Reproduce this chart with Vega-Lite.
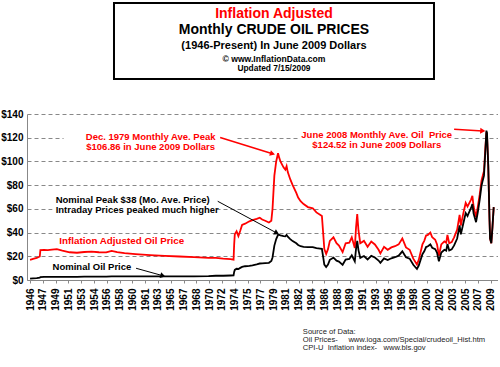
{
  "$schema": "https://vega.github.io/schema/vega-lite/v6.json",
  "padding": {"left": 0, "top": 2, "right": 0, "bottom": 0},
  "background": "white",
  "config": {"view": {"stroke": null}, "font": "Liberation Sans"},
  "bounds": "flush",
  "spacing": 35,
  "resolve": {"scale": {"color": "independent", "size": "independent"}},
  "datasets": {
    "oil": [
      {"date": "1946-01-01", "real": 17.0, "nominal": 1.2},
      {"date": "1946-06-01", "real": 17.8, "nominal": 1.4},
      {"date": "1946-12-01", "real": 18.6, "nominal": 1.6},
      {"date": "1947-05-01", "real": 19.8, "nominal": 1.9},
      {"date": "1947-06-01", "real": 25.2, "nominal": 2.4},
      {"date": "1947-12-01", "real": 25.4, "nominal": 2.6},
      {"date": "1948-06-01", "real": 25.2, "nominal": 2.7},
      {"date": "1949-01-01", "real": 25.6, "nominal": 2.7},
      {"date": "1949-09-01", "real": 26.0, "nominal": 2.7},
      {"date": "1950-06-01", "real": 24.8, "nominal": 2.7},
      {"date": "1951-06-01", "real": 23.4, "nominal": 2.7},
      {"date": "1952-06-01", "real": 23.0, "nominal": 2.7},
      {"date": "1953-06-01", "real": 23.6, "nominal": 2.8},
      {"date": "1954-06-01", "real": 24.0, "nominal": 2.8},
      {"date": "1955-06-01", "real": 23.4, "nominal": 2.8},
      {"date": "1956-06-01", "real": 23.3, "nominal": 2.8},
      {"date": "1957-03-01", "real": 24.6, "nominal": 3.1},
      {"date": "1957-12-01", "real": 23.6, "nominal": 3.1},
      {"date": "1958-12-01", "real": 22.6, "nominal": 3.0},
      {"date": "1960-06-01", "real": 21.8, "nominal": 3.0},
      {"date": "1962-06-01", "real": 21.0, "nominal": 3.0},
      {"date": "1964-06-01", "real": 20.4, "nominal": 3.0},
      {"date": "1966-06-01", "real": 19.8, "nominal": 3.0},
      {"date": "1968-06-01", "real": 19.3, "nominal": 3.1},
      {"date": "1970-06-01", "real": 18.6, "nominal": 3.2},
      {"date": "1971-06-01", "real": 18.6, "nominal": 3.6},
      {"date": "1972-06-01", "real": 18.0, "nominal": 3.6},
      {"date": "1973-06-01", "real": 17.6, "nominal": 3.8},
      {"date": "1973-11-01", "real": 17.2, "nominal": 3.9},
      {"date": "1973-12-01", "real": 30.0, "nominal": 6.8},
      {"date": "1974-01-01", "real": 38.5, "nominal": 8.5},
      {"date": "1974-04-01", "real": 41.0, "nominal": 9.5},
      {"date": "1974-07-01", "real": 37.0, "nominal": 9.3},
      {"date": "1974-10-01", "real": 41.5, "nominal": 10.2},
      {"date": "1975-01-01", "real": 46.5, "nominal": 11.0},
      {"date": "1975-06-01", "real": 47.5, "nominal": 11.6},
      {"date": "1976-01-01", "real": 49.5, "nominal": 12.0},
      {"date": "1976-06-01", "real": 50.5, "nominal": 12.4},
      {"date": "1977-01-01", "real": 51.5, "nominal": 13.2},
      {"date": "1977-06-01", "real": 52.5, "nominal": 13.9},
      {"date": "1977-10-01", "real": 51.0, "nominal": 14.0},
      {"date": "1978-03-01", "real": 50.0, "nominal": 14.2},
      {"date": "1978-09-01", "real": 48.5, "nominal": 14.5},
      {"date": "1979-01-01", "real": 50.0, "nominal": 16.0},
      {"date": "1979-03-01", "real": 60.0, "nominal": 19.0},
      {"date": "1979-06-01", "real": 88.0, "nominal": 29.0},
      {"date": "1979-09-01", "real": 100.0, "nominal": 34.5},
      {"date": "1979-12-01", "real": 106.86, "nominal": 38.0},
      {"date": "1980-02-01", "real": 103.0, "nominal": 38.0},
      {"date": "1980-04-01", "real": 100.0, "nominal": 37.6},
      {"date": "1980-06-01", "real": 98.0, "nominal": 37.4},
      {"date": "1980-09-01", "real": 95.0, "nominal": 37.0},
      {"date": "1980-12-01", "real": 93.0, "nominal": 36.8},
      {"date": "1981-02-01", "real": 96.0, "nominal": 38.0},
      {"date": "1981-04-01", "real": 91.0, "nominal": 36.5},
      {"date": "1981-08-01", "real": 85.0, "nominal": 34.5},
      {"date": "1981-12-01", "real": 80.0, "nominal": 32.8},
      {"date": "1982-06-01", "real": 73.5, "nominal": 31.0},
      {"date": "1982-09-01", "real": 69.5, "nominal": 29.5},
      {"date": "1983-01-01", "real": 66.5, "nominal": 28.5},
      {"date": "1983-06-01", "real": 64.0, "nominal": 28.0},
      {"date": "1984-01-01", "real": 61.5, "nominal": 27.8},
      {"date": "1984-09-01", "real": 60.5, "nominal": 27.8},
      {"date": "1985-03-01", "real": 57.0, "nominal": 26.8},
      {"date": "1985-09-01", "real": 55.0, "nominal": 26.5},
      {"date": "1985-12-01", "real": 54.0, "nominal": 26.3},
      {"date": "1986-02-01", "real": 40.0, "nominal": 19.5},
      {"date": "1986-04-01", "real": 26.0, "nominal": 13.0},
      {"date": "1986-07-01", "real": 22.0, "nominal": 11.0},
      {"date": "1986-10-01", "real": 26.0, "nominal": 13.0},
      {"date": "1987-01-01", "real": 33.0, "nominal": 17.0},
      {"date": "1987-07-01", "real": 36.0, "nominal": 18.8},
      {"date": "1987-12-01", "real": 31.0, "nominal": 16.3},
      {"date": "1988-04-01", "real": 29.0, "nominal": 15.5},
      {"date": "1988-10-01", "real": 23.5, "nominal": 12.8},
      {"date": "1989-03-01", "real": 31.0, "nominal": 17.2},
      {"date": "1989-09-01", "real": 31.5, "nominal": 17.8},
      {"date": "1990-01-01", "real": 36.0, "nominal": 20.8},
      {"date": "1990-06-01", "real": 27.0, "nominal": 15.8},
      {"date": "1990-08-01", "real": 44.0, "nominal": 26.0},
      {"date": "1990-10-01", "real": 55.5, "nominal": 33.0},
      {"date": "1990-12-01", "real": 42.0, "nominal": 25.2},
      {"date": "1991-03-01", "real": 31.0, "nominal": 18.7},
      {"date": "1991-09-01", "real": 33.0, "nominal": 20.2},
      {"date": "1992-03-01", "real": 28.0, "nominal": 17.3},
      {"date": "1992-09-01", "real": 32.5, "nominal": 20.4},
      {"date": "1993-03-01", "real": 30.0, "nominal": 19.0},
      {"date": "1993-09-01", "real": 25.5, "nominal": 16.4},
      {"date": "1993-12-01", "real": 22.5, "nominal": 14.5},
      {"date": "1994-06-01", "real": 28.0, "nominal": 18.2},
      {"date": "1994-12-01", "real": 25.5, "nominal": 16.8},
      {"date": "1995-06-01", "real": 27.5, "nominal": 18.3},
      {"date": "1995-12-01", "real": 28.5, "nominal": 19.2},
      {"date": "1996-06-01", "real": 30.0, "nominal": 20.5},
      {"date": "1996-12-01", "real": 35.0, "nominal": 24.2},
      {"date": "1997-06-01", "real": 27.5, "nominal": 19.2},
      {"date": "1997-12-01", "real": 25.5, "nominal": 18.0},
      {"date": "1998-06-01", "real": 18.0, "nominal": 12.8},
      {"date": "1998-12-01", "real": 13.0, "nominal": 9.3},
      {"date": "1999-03-01", "real": 17.0, "nominal": 12.2},
      {"date": "1999-09-01", "real": 30.0, "nominal": 21.8},
      {"date": "1999-12-01", "real": 33.0, "nominal": 24.2},
      {"date": "2000-03-01", "real": 37.5, "nominal": 27.8},
      {"date": "2000-06-01", "real": 38.0, "nominal": 28.4},
      {"date": "2000-10-01", "real": 40.0, "nominal": 30.0},
      {"date": "2001-01-01", "real": 36.0, "nominal": 27.2},
      {"date": "2001-06-01", "real": 34.0, "nominal": 26.0},
      {"date": "2001-09-01", "real": 30.0, "nominal": 23.0},
      {"date": "2001-12-01", "real": 20.5, "nominal": 15.8},
      {"date": "2002-04-01", "real": 30.0, "nominal": 23.2},
      {"date": "2002-09-01", "real": 32.5, "nominal": 25.5},
      {"date": "2002-12-01", "real": 31.5, "nominal": 24.8},
      {"date": "2003-02-01", "real": 38.0, "nominal": 30.3},
      {"date": "2003-05-01", "real": 31.0, "nominal": 24.8},
      {"date": "2003-09-01", "real": 32.0, "nominal": 25.8},
      {"date": "2004-01-01", "real": 36.0, "nominal": 29.2},
      {"date": "2004-06-01", "real": 42.5, "nominal": 35.0},
      {"date": "2004-10-01", "real": 55.0, "nominal": 46.0},
      {"date": "2004-12-01", "real": 46.0, "nominal": 38.5},
      {"date": "2005-04-01", "real": 56.0, "nominal": 47.5},
      {"date": "2005-08-01", "real": 65.0, "nominal": 56.5},
      {"date": "2005-11-01", "real": 62.0, "nominal": 54.0},
      {"date": "2006-01-01", "real": 64.0, "nominal": 56.5},
      {"date": "2006-05-01", "real": 68.0, "nominal": 61.0},
      {"date": "2006-07-01", "real": 71.0, "nominal": 64.0},
      {"date": "2006-09-01", "real": 62.0, "nominal": 56.0},
      {"date": "2007-01-01", "real": 53.0, "nominal": 48.8},
      {"date": "2007-04-01", "real": 62.0, "nominal": 57.5},
      {"date": "2007-07-01", "real": 72.0, "nominal": 67.5},
      {"date": "2007-10-01", "real": 84.0, "nominal": 79.5},
      {"date": "2007-12-01", "real": 88.0, "nominal": 84.0},
      {"date": "2008-02-01", "real": 92.0, "nominal": 88.0},
      {"date": "2008-04-01", "real": 109.0, "nominal": 106.0},
      {"date": "2008-06-01", "real": 124.52, "nominal": 126.0},
      {"date": "2008-07-01", "real": 122.0, "nominal": 124.0},
      {"date": "2008-09-01", "real": 96.0, "nominal": 97.0},
      {"date": "2008-11-01", "real": 52.0, "nominal": 52.5},
      {"date": "2008-12-01", "real": 35.0, "nominal": 35.0},
      {"date": "2009-02-01", "real": 31.0, "nominal": 31.0},
      {"date": "2009-04-01", "real": 45.0, "nominal": 45.0},
      {"date": "2009-06-01", "real": 61.5, "nominal": 61.5}
    ],
    "arrows": [
      {"n": 1, "d1": "1972-01-01", "p1": 120.1, "d2": "1979-03-01", "p2": 106.5},
      {"n": 2, "d1": "2004-01-01", "p1": 127.1, "d2": "2007-12-01", "p2": 125.7},
      {"n": 3, "d1": "1971-09-01", "p1": 66.4, "d2": "1979-10-01", "p2": 39.6},
      {"n": 4, "d1": "1960-07-01", "p1": 9.9, "d2": "1964-03-01", "p2": 3.6}
    ]
  },
  "vconcat": [
    {
      "width": 471,
      "height": 76,
      "layer": [
        {
          "data": {"values": [{}]},
          "mark": {"type": "rect", "fill": "#333333", "xOffset": 3, "yOffset": 3},
          "encoding": {
            "x": {"datum": 0.1847, "type": "quantitative", "scale": {"domain": [0, 1], "nice": false, "zero": false}, "axis": null},
            "x2": {"datum": 0.8641}
          }
        },
        {
          "data": {"values": [{}]},
          "mark": {"type": "rect", "fill": "#ffffff", "stroke": "#000000", "strokeWidth": 2},
          "encoding": {
            "x": {"datum": 0.1847, "type": "quantitative"},
            "x2": {"datum": 0.8641}
          }
        },
        {
          "data": {"values": [
            {"line": 1, "t": "Inflation Adjusted"},
            {"line": 2, "t": "Monthly CRUDE OIL PRICES"},
            {"line": 3, "t": "(1946-Present) In June 2009 Dollars"},
            {"line": 4, "t": "© www.InflationData.com"},
            {"line": 5, "t": "Updated 7/15/2009"}
          ]},
          "mark": {"type": "text", "fontWeight": "bold", "baseline": "middle", "align": "center", "font": "Liberation Sans"},
          "encoding": {
            "x": {"datum": 0.5244, "type": "quantitative"},
            "text": {"field": "t", "type": "nominal"},
            "y": {"field": "line", "type": "quantitative", "axis": null, "scale": {"domain": [1, 2, 3, 4, 5], "range": [11, 26.5, 43, 55.5, 64.5], "zero": false, "nice": false}},
            "color": {"field": "line", "type": "ordinal", "legend": null, "scale": {"domain": [1, 2, 3, 4, 5], "range": ["#ff0000", "#000000", "#000000", "#000000", "#000000"]}},
            "size": {"field": "line", "type": "quantitative", "legend": null, "scale": {"domain": [1, 2, 3, 4, 5], "range": [14, 14, 11, 8.6, 8.4], "zero": false}}
          }
        }
      ]
    },
    {
      "width": 471,
      "height": 166,
      "layer": [
        {
          "data": {"values": [
            {"d1": "1950-08-01", "d2": "1974-04-01", "p1": 110.2, "p2": 131.4},
            {"d1": "1982-10-01", "d2": "2003-11-01", "p1": 111.0, "p2": 131.0},
            {"d1": "1949-02-01", "d2": "1971-06-01", "p1": 57.6, "p2": 76.3}
          ]},
          "mark": {"type": "rect", "fill": "#ffffff", "stroke": null},
          "encoding": {
            "x": {
              "field": "d1", "type": "temporal",
              "scale": {"type": "utc", "domain": [{"year": 1945, "month": 8, "date": 1, "utc": true}, {"year": 2010, "month": 1, "date": 1, "utc": true}]},
              "axis": {
                "values": [
                  {"year": 1946, "month": 1, "date": 1, "utc": true},
                  {"year": 1947, "month": 10, "date": 1, "utc": true},
                  {"year": 1949, "month": 7, "date": 1, "utc": true},
                  {"year": 1951, "month": 4, "date": 1, "utc": true},
                  {"year": 1953, "month": 1, "date": 1, "utc": true},
                  {"year": 1954, "month": 10, "date": 1, "utc": true},
                  {"year": 1956, "month": 7, "date": 1, "utc": true},
                  {"year": 1958, "month": 4, "date": 1, "utc": true},
                  {"year": 1960, "month": 1, "date": 1, "utc": true},
                  {"year": 1961, "month": 10, "date": 1, "utc": true},
                  {"year": 1963, "month": 7, "date": 1, "utc": true},
                  {"year": 1965, "month": 4, "date": 1, "utc": true},
                  {"year": 1967, "month": 1, "date": 1, "utc": true},
                  {"year": 1968, "month": 10, "date": 1, "utc": true},
                  {"year": 1970, "month": 7, "date": 1, "utc": true},
                  {"year": 1972, "month": 4, "date": 1, "utc": true},
                  {"year": 1974, "month": 1, "date": 1, "utc": true},
                  {"year": 1975, "month": 10, "date": 1, "utc": true},
                  {"year": 1977, "month": 7, "date": 1, "utc": true},
                  {"year": 1979, "month": 4, "date": 1, "utc": true},
                  {"year": 1981, "month": 1, "date": 1, "utc": true},
                  {"year": 1982, "month": 10, "date": 1, "utc": true},
                  {"year": 1984, "month": 7, "date": 1, "utc": true},
                  {"year": 1986, "month": 4, "date": 1, "utc": true},
                  {"year": 1988, "month": 1, "date": 1, "utc": true},
                  {"year": 1989, "month": 10, "date": 1, "utc": true},
                  {"year": 1991, "month": 7, "date": 1, "utc": true},
                  {"year": 1993, "month": 4, "date": 1, "utc": true},
                  {"year": 1995, "month": 1, "date": 1, "utc": true},
                  {"year": 1996, "month": 10, "date": 1, "utc": true},
                  {"year": 1998, "month": 7, "date": 1, "utc": true},
                  {"year": 2000, "month": 4, "date": 1, "utc": true},
                  {"year": 2002, "month": 1, "date": 1, "utc": true},
                  {"year": 2003, "month": 10, "date": 1, "utc": true},
                  {"year": 2005, "month": 7, "date": 1, "utc": true},
                  {"year": 2007, "month": 4, "date": 1, "utc": true},
                  {"year": 2009, "month": 1, "date": 1, "utc": true}
                ],
                "tickCount": 40,
                "format": "%Y",
                "labelAngle": -90,
                "labelFont": "Liberation Sans",
                "labelFontSize": 10,
                "labelFontWeight": "bold",
                "labelColor": "#000000",
                "labelPadding": 5,
                "labelOverlap": false,
                "labelFlush": false,
                "labelBound": false,
                "tickSize": 3,
                "tickColor": "#888888",
                "domainColor": "#888888",
                "grid": false,
                "title": null
              }
            },
            "x2": {"field": "d2"},
            "y": {
              "field": "p1", "type": "quantitative",
              "scale": {"domain": [0, 140], "nice": false, "zero": true},
              "axis": {
                "values": [0, 20, 40, 60, 80, 100, 120, 140],
                "tickCount": 10,
                "format": "$.0f",
                "labelFont": "Liberation Sans",
                "labelFontSize": 10,
                "labelFontWeight": "bold",
                "labelColor": "#000000",
                "labelPadding": 4,
                "labelOverlap": false,
                "ticks": false,
                "domainColor": "#888888",
                "grid": true,
                "gridColor": "#888888",
                "gridDash": [4, 3],
                "gridWidth": 1,
                "title": null
              }
            },
            "y2": {"field": "p2"}
          }
        },
        {
          "data": {"name": "oil"},
          "mark": {"type": "line", "color": "#ff0000", "strokeWidth": 1.8},
          "encoding": {
            "x": {"field": "date", "type": "temporal"},
            "y": {"field": "real", "type": "quantitative"}
          }
        },
        {
          "data": {"name": "oil"},
          "mark": {"type": "line", "color": "#000000", "strokeWidth": 1.8},
          "encoding": {
            "x": {"field": "date", "type": "temporal"},
            "y": {"field": "nominal", "type": "quantitative"}
          }
        },
        {
          "data": {"name": "arrows"},
          "mark": {"type": "rule"},
          "encoding": {
            "x": {"field": "d1", "type": "temporal"},
            "y": {"field": "p1", "type": "quantitative"},
            "x2": {"field": "d2"},
            "y2": {"field": "p2"},
            "color": {"field": "n", "type": "ordinal", "legend": null, "scale": {"domain": [1, 2, 3, 4], "range": ["#ff0000", "#ff0000", "#000000", "#000000"]}},
            "strokeWidth": {"field": "n", "type": "quantitative", "legend": null, "scale": {"domain": [1, 2, 3, 4], "range": [1.6, 1.6, 1, 1], "zero": false}}
          }
        },
        {
          "data": {"name": "arrows"},
          "mark": {"type": "point", "shape": "triangle-right", "filled": true, "opacity": 1, "size": 35},
          "encoding": {
            "x": {"field": "d2", "type": "temporal"},
            "y": {"field": "p2", "type": "quantitative"},
            "color": {"field": "n", "type": "ordinal", "legend": null, "scale": {"domain": [1, 2, 3, 4], "range": ["#ff0000", "#ff0000", "#000000", "#000000"]}},
            "angle": {"field": "n", "type": "quantitative", "legend": null, "scale": {"domain": [1, 2, 3, 4], "range": [17, 3.4, 28, 15.5], "zero": false}}
          }
        },
        {
          "data": {"values": [
            {"date": "1962-07-01", "price": 120.8, "t": "Dec. 1979 Monthly Ave. Peak\n$106.86 in June 2009 Dollars"},
            {"date": "1993-06-01", "price": 122.5, "t": "June 2008 Monthly Ave. Oil\u00a0 Price\n$124.52 in June 2009 Dollars"}
          ]},
          "mark": {"type": "text", "color": "#ff0000", "font": "Liberation Sans", "fontWeight": "bold", "fontSize": 9.5, "lineBreak": "\n", "lineHeight": 10.5, "align": "center", "baseline": "middle"},
          "encoding": {
            "x": {"field": "date", "type": "temporal"},
            "y": {"field": "price", "type": "quantitative"},
            "text": {"field": "t", "type": "nominal"}
          }
        },
        {
          "data": {"values": [
            {"date": "1950-01-01", "price": 32.5, "t": "Inflation Adjusted Oil Price"}
          ]},
          "mark": {"type": "text", "color": "#ff0000", "font": "Liberation Sans", "fontWeight": "bold", "fontSize": 9.8, "align": "left", "baseline": "middle"},
          "encoding": {
            "x": {"field": "date", "type": "temporal"},
            "y": {"field": "price", "type": "quantitative"},
            "text": {"field": "t", "type": "nominal"}
          }
        },
        {
          "data": {"values": [
            {"date": "1949-07-01", "price": 67.8, "t": "Nominal Peak $38 (Mo. Ave. Price)\nIntraday Prices peaked much higher"},
            {"date": "1949-02-01", "price": 10.8, "t": "Nominal Oil Price"}
          ]},
          "mark": {"type": "text", "color": "#000000", "font": "Liberation Sans", "fontWeight": "bold", "fontSize": 9.5, "lineBreak": "\n", "lineHeight": 10.5, "align": "left", "baseline": "middle"},
          "encoding": {
            "x": {"field": "date", "type": "temporal"},
            "y": {"field": "price", "type": "quantitative"},
            "text": {"field": "t", "type": "nominal"}
          }
        }
      ]
    },
    {
      "width": 471,
      "height": 36,
      "data": {"values": [
        {"line": 1, "t": "\u00a0\u00a0Source of Data:"},
        {"line": 2, "t": "Oil Prices-\u00a0\u00a0\u00a0\u00a0 www.ioga.com/Special/crudeoil_Hist.htm"},
        {"line": 3, "t": "CPI-U\u00a0 Inflation index-\u00a0\u00a0 www.bls.gov"}
      ]},
      "mark": {"type": "text", "align": "left", "baseline": "middle", "font": "Liberation Sans", "fontSize": 7.6, "color": "#222222"},
      "encoding": {
        "x": {"datum": 0.5856, "type": "quantitative", "scale": {"domain": [0, 1], "nice": false, "zero": false}, "axis": null},
        "y": {"field": "line", "type": "quantitative", "axis": null, "scale": {"domain": [1, 3], "range": [16.7, 32.7], "nice": false, "zero": false}},
        "text": {"field": "t", "type": "nominal"}
      }
    }
  ]
}
